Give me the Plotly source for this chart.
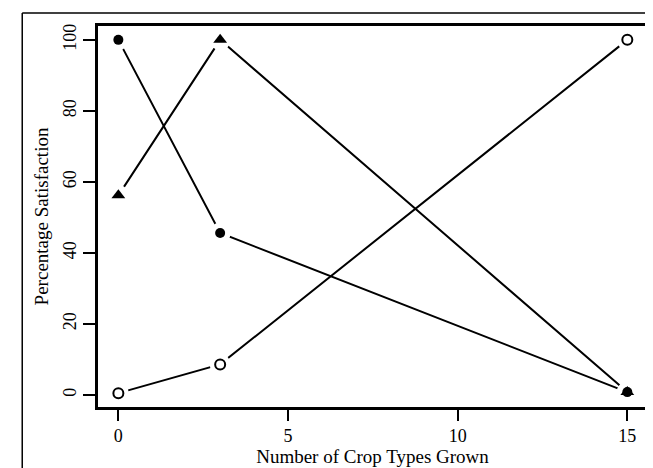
import plotly.graph_objects as go

crop_types = [0, 3, 15]
series_filled_circle = [100, 45.6, 0.8]
series_triangle = [56.2, 100, 0.8]
series_open_circle = [0.5, 8.6, 100]

x_ticks = [0, 5, 10, 15]
y_ticks = [0, 20, 40, 60, 80, 100]

fig = go.Figure()
line_style = dict(color="black", width=2)
for ys in (series_filled_circle, series_triangle, series_open_circle):
    fig.add_trace(go.Scatter(x=crop_types, y=ys, mode="lines", line=line_style,
                             hoverinfo="skip", showlegend=False, cliponaxis=False))
# white halos so lines stop short of markers
for ys in (series_filled_circle, series_triangle, series_open_circle):
    fig.add_trace(go.Scatter(x=crop_types, y=ys, mode="markers",
                             marker=dict(symbol="circle", size=21, color="white",
                                         line=dict(width=0)),
                             hoverinfo="skip", showlegend=False, cliponaxis=False))
fig.add_trace(go.Scatter(x=crop_types, y=series_filled_circle, mode="markers",
                         marker=dict(symbol="circle", size=10, color="black",
                                     line=dict(width=0)), showlegend=False))
fig.add_trace(go.Scatter(x=crop_types, y=series_triangle, mode="markers",
                         marker=dict(symbol="triangle-up", size=12, color="black",
                                     line=dict(width=0)), showlegend=False))
fig.add_trace(go.Scatter(x=crop_types, y=series_open_circle, mode="markers",
                         marker=dict(symbol="circle-open", size=10, color="black",
                                     line=dict(width=2, color="black")), showlegend=False))

title_font = dict(family="Liberation Serif", size=19, color="black")
tick_font = dict(family="Liberation Serif", size=18, color="black")
fig.update_layout(
    width=653, height=468,
    margin=dict(l=90, r=14, t=18, b=69),
    paper_bgcolor="white", plot_bgcolor="white",
    font=title_font,
    xaxis=dict(range=[-0.6, 15.58], tickvals=x_ticks, ticks="outside", ticklen=11,
               tickwidth=2, tickcolor="black", showline=True, linewidth=2.5,
               linecolor="black", mirror=True, showgrid=False, zeroline=False,
               title=dict(text="Number of Crop Types Grown", standoff=3, font=title_font),
               tickfont=tick_font),
    yaxis=dict(range=[-3.4, 103.9], tickvals=y_ticks, ticks="outside", ticklen=12,
               tickwidth=2, tickcolor="black", showline=True, linewidth=2.5,
               linecolor="black", mirror=True, showgrid=False, zeroline=False,
               tickangle=-90,
               title=dict(text="Percentage Satisfaction", standoff=7, font=title_font),
               tickfont=tick_font),
)
# outer frame (top and left edges visible)
fig.add_shape(type="line", xref="paper", yref="paper", x0=-0.138, x1=1.1,
              y0=1.034, y1=1.034, line=dict(color="black", width=1.5))
fig.add_shape(type="line", xref="paper", yref="paper", x0=-0.138, x1=-0.138,
              y0=1.034, y1=-0.3, line=dict(color="black", width=1.5))

fig.write_html("out.html")
